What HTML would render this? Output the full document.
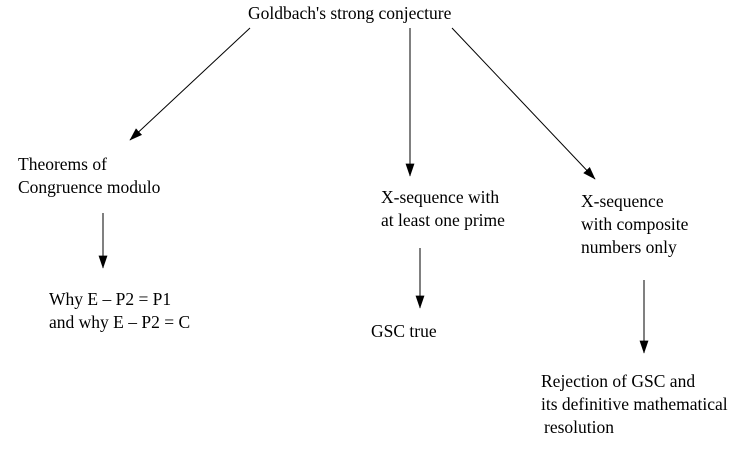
<!DOCTYPE html>
<html><head><meta charset="utf-8"><style>
html,body{margin:0;padding:0;background:#fff;}
svg{display:block;}
text{font-family:"Liberation Serif",serif;font-size:17.5px;fill:#000;}
</style></head><body>
<svg width="752" height="452" viewBox="0 0 752 452">
<defs>
<marker id="b" markerWidth="13" markerHeight="19" refX="18" refY="6.5" orient="auto" markerUnits="userSpaceOnUse" viewBox="0 0 19 13"><path d="M0,0 L19,6.5 L0,13 z" fill="#000"/></marker></defs>
<g stroke="#000" stroke-width="1" fill="none">
<line x1="250" y1="28" x2="130" y2="140" marker-end="url(#b)"/>
<line x1="410" y1="28" x2="410" y2="176" marker-end="url(#b)"/>
<line x1="452" y1="28" x2="595" y2="179" marker-end="url(#b)"/>
<line x1="103" y1="213" x2="103" y2="268" marker-end="url(#b)"/>
<line x1="420" y1="248" x2="420" y2="308" marker-end="url(#b)"/>
<line x1="644" y1="280" x2="644" y2="353" marker-end="url(#b)"/>
</g>
<text x="248" y="19">Goldbach's strong conjecture</text>
<text x="18" y="170">Theorems of</text>
<text x="18" y="193">Congruence modulo</text>
<text x="381" y="203">X-sequence with</text>
<text x="381" y="226">at least one prime</text>
<text x="581" y="207">X-sequence</text>
<text x="581" y="230">with composite</text>
<text x="581" y="253">numbers only</text>
<text x="49" y="305">Why E – P2 = P1</text>
<text x="49" y="328">and why E – P2 = C</text>
<text x="371" y="337">GSC true</text>
<text x="541" y="387">Rejection of GSC and</text>
<text x="541" y="410">its definitive mathematical</text>
<text x="544" y="433">resolution</text>
</svg>
</body></html>
